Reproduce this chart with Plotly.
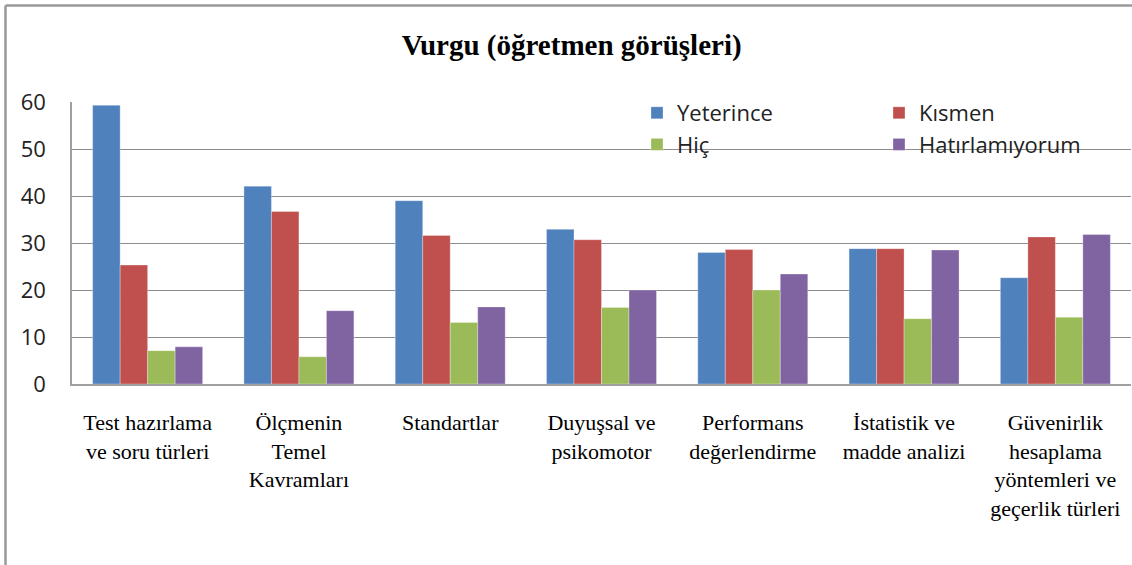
import plotly.graph_objects as go

categories = [
    "Test hazırlama<br>ve soru türleri",
    "Ölçmenin<br>Temel<br>Kavramları",
    "Standartlar",
    "Duyuşsal ve<br>psikomotor",
    "Performans<br>değerlendirme",
    "İstatistik ve<br>madde analizi",
    "Güvenirlik<br>hesaplama<br>yöntemleri ve<br>geçerlik türleri",
]
yeterince = [59.3, 42.1, 39.0, 32.9, 28.0, 28.8, 22.6]
kismen = [25.3, 36.7, 31.6, 30.7, 28.6, 28.8, 31.3]
hic = [7.1, 5.8, 13.1, 16.3, 20.0, 13.9, 14.2]
hatirlamiyorum = [7.9, 15.6, 16.4, 20.0, 23.4, 28.5, 31.8]
y_ticks = [0, 10, 20, 30, 40, 50, 60]

W, H = 1132, 565
L, R, T, B = 72, 1, 102, 181
pw, ph = W - L - R, H - T - B

def px_x(x):
    return (x - L) / pw

def px_y(y):
    return (H - B - y) / ph

series = [
    ("Yeterince", yeterince, "#4F81BD", "legend"),
    ("Kısmen", kismen, "#C0504D", "legend2"),
    ("Hiç", hic, "#9BBB59", "legend"),
    ("Hatırlamıyorum", hatirlamiyorum, "#8064A2", "legend2"),
]

fig = go.Figure()
for name, vals, col, lg in series:
    fig.add_trace(go.Bar(
        x=categories, y=vals, name=name, legend=lg,
        marker=dict(color=col, line=dict(width=0.6, color="rgba(255,255,255,0.5)")),
    ))

legend_font = dict(family="Open Sans, Lato, sans-serif", size=22, color="#222222")
fig.update_layout(
    width=W, height=H,
    margin=dict(l=L, r=R, t=T, b=B, autoexpand=False),
    paper_bgcolor="white", plot_bgcolor="white",
    barmode="group", bargap=0.273, bargroupgap=0,
    title=dict(
        text="<b>Vurgu (öğretmen görüşleri)</b>",
        font=dict(family="Liberation Serif, Times New Roman, serif", size=29, color="black"),
        x=0.505, xref="container", xanchor="center",
        y=1 - 45 / H, yref="container", yanchor="middle",
    ),
    legend=dict(
        x=637 / W, xref="container", xanchor="left",
        y=1 - 92 / H, yref="container", yanchor="top",
        font=legend_font, bgcolor="rgba(0,0,0,0)", traceorder="normal",
        itemclick=False,
    ),
    legend2=dict(
        x=879 / W, xref="container", xanchor="left",
        y=1 - 92 / H, yref="container", yanchor="top",
        font=legend_font, bgcolor="rgba(0,0,0,0)", traceorder="normal",
        itemclick=False,
    ),
    xaxis=dict(
        type="category",
        showgrid=False, showline=True, linecolor="#A0A0A0", linewidth=1.5,
        ticks="", ticklabelstandoff=18, tickangle=0, automargin=False,
        tickfont=dict(family="Liberation Serif, Times New Roman, serif", size=22, color="black"),
    ),
    yaxis=dict(
        range=[0, 60], tickvals=y_ticks, ticktext=[str(v) for v in y_ticks],
        showgrid=True, gridcolor="#8C8C8C", gridwidth=1.3,
        zeroline=False, showline=True, linecolor="#A0A0A0", linewidth=1.5,
        ticks="", ticklabelstandoff=20, automargin=False,
        tickfont=dict(family="Open Sans, Lato, sans-serif", size=22, color="#222222"),
    ),
    showlegend=True,
    shapes=[
        dict(type="line", xref="paper", yref="paper",
             x0=px_x(5.5), x1=px_x(W + 5), y0=px_y(5.5), y1=px_y(5.5),
             line=dict(color="#999999", width=2.5)),
        dict(type="line", xref="paper", yref="paper",
             x0=px_x(5.5), x1=px_x(5.5), y0=px_y(5.5), y1=px_y(H + 5),
             line=dict(color="#999999", width=2.5)),
    ],
)

fig.write_html("out.html", config={"displayModeBar": False},
               post_script="document.body.style.margin='0';")
